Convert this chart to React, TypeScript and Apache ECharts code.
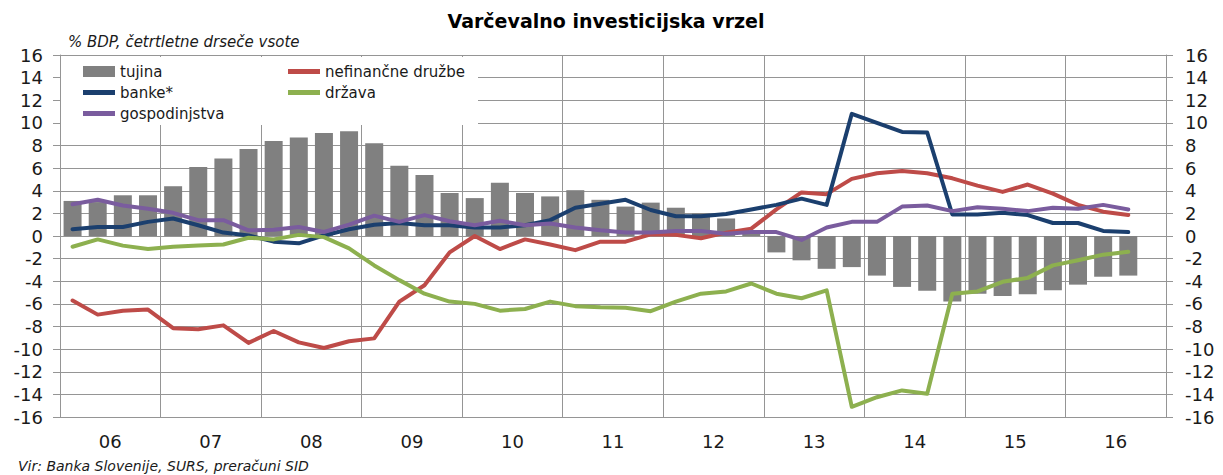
import React, { useEffect, useRef } from "react";
import * as echarts from "echarts";

const years = ["06", "07", "08", "09", "10", "11", "12", "13", "14", "15", "16"];
const quarters = years.flatMap((y) => ["Q1", "Q2", "Q3", "Q4"].map((q) => y + q));

const tujina = [3.1, 3.0, 3.6, 3.6, 4.4, 6.1, 6.85, 7.7, 8.4, 8.7, 9.1, 9.25, 8.2, 6.2, 5.4, 3.8, 3.35, 4.7, 3.8, 3.5, 4.05, 3.2, 2.6, 2.95, 2.5, 2.0, 1.55, 0.3, -1.45, -2.15, -2.9, -2.75, -3.5, -4.5, -4.85, -5.8, -5.1, -5.3, -5.15, -4.8, -4.3, -3.6, -3.5];
const nefinancne = [-5.7, -6.95, -6.6, -6.5, -8.15, -8.25, -7.9, -9.45, -8.4, -9.4, -9.9, -9.3, -9.05, -5.8, -4.35, -1.45, 0.0, -1.15, -0.3, -0.75, -1.25, -0.5, -0.5, 0.15, 0.1, -0.2, 0.3, 0.65, 2.35, 3.85, 3.7, 5.05, 5.55, 5.75, 5.55, 5.1, 4.45, 3.9, 4.55, 3.75, 2.75, 2.15, 1.85];
const banke = [0.6, 0.8, 0.8, 1.25, 1.55, 0.95, 0.3, 0.05, -0.5, -0.65, 0.05, 0.6, 1.0, 1.15, 0.95, 0.95, 0.75, 0.75, 0.95, 1.4, 2.5, 2.85, 3.2, 2.3, 1.75, 1.75, 1.95, 2.35, 2.75, 3.3, 2.75, 10.8, 10.0, 9.2, 9.15, 1.9, 1.9, 2.05, 1.85, 1.15, 1.15, 0.45, 0.35];
const drzava = [-0.95, -0.3, -0.85, -1.15, -0.95, -0.85, -0.75, -0.15, -0.3, 0.1, -0.1, -1.1, -2.6, -3.9, -5.1, -5.8, -6.0, -6.6, -6.45, -5.8, -6.2, -6.3, -6.35, -6.65, -5.8, -5.1, -4.9, -4.2, -5.1, -5.5, -4.8, -15.1, -14.25, -13.65, -13.95, -5.1, -4.9, -4.05, -3.7, -2.6, -2.15, -1.65, -1.4];
const gospodinjstva = [2.8, 3.2, 2.7, 2.4, 2.05, 1.4, 1.4, 0.5, 0.55, 0.8, 0.35, 1.0, 1.8, 1.25, 1.85, 1.3, 0.95, 1.35, 0.95, 1.1, 0.75, 0.5, 0.3, 0.3, 0.45, 0.45, 0.2, 0.35, 0.35, -0.35, 0.75, 1.25, 1.25, 2.6, 2.7, 2.2, 2.55, 2.4, 2.2, 2.5, 2.4, 2.75, 2.35];

const FONT = '"DejaVu Sans", Verdana, sans-serif';
const GRID = "#959595";
const LINE_ICON = "path://M0,0H32V5H0Z";

const lineSeries = (name: string, data: number[], color: string) => ({
  name,
  type: "line",
  data,
  xAxisIndex: 0,
  yAxisIndex: 0,
  showSymbol: false,
  symbol: "none",
  smooth: false,
  itemStyle: { color },
  lineStyle: { color, width: 4, join: "round", cap: "round" },
  z: 3,
});

export default function App() {
  const ref = useRef<HTMLDivElement>(null);
  useEffect(() => {
    document.body.style.margin = "0";
    const chart = echarts.init(ref.current!, undefined, { renderer: "svg" });
    const axisLabel = { fontFamily: FONT, fontSize: 18, color: "#1a1a1a" };
    const legendText = { fontFamily: FONT, fontSize: 15, color: "#1a1a1a", lineHeight: 15 };
    chart.setOption({
      animation: false,
      backgroundColor: "#fff",
      grid: { left: 60, right: 57, top: 55, bottom: 58, containLabel: false },
      xAxis: [
        { type: "category", data: quarters, show: false, position: "bottom", boundaryGap: true },
        {
          type: "category",
          data: years,
          position: "bottom",
          boundaryGap: true,
          axisLine: { show: true, lineStyle: { color: GRID, width: 1 } },
          axisTick: { show: false },
          axisLabel: { ...axisLabel, margin: 15, interval: 0 },
          splitLine: { show: true, interval: 0, lineStyle: { color: GRID, width: 1 } },
        },
      ],
      yAxis: [
        {
          type: "value",
          min: -16,
          max: 16,
          interval: 2,
          position: "left",
          axisLine: { show: true, lineStyle: { color: GRID, width: 1 } },
          axisTick: { show: true, length: 7, lineStyle: { color: GRID } },
          axisLabel: { ...axisLabel, margin: 17 },
          splitLine: { show: true, lineStyle: { color: GRID, width: 1 } },
        },
        {
          type: "value",
          min: -16,
          max: 16,
          interval: 2,
          position: "right",
          axisLine: { show: true, lineStyle: { color: GRID, width: 1 } },
          axisTick: { show: true, length: 7, lineStyle: { color: GRID } },
          axisLabel: { ...axisLabel, margin: 19 },
          splitLine: { show: false },
        },
      ],
      legend: [
        {
          left: 83,
          top: 64,
          orient: "vertical",
          padding: 0,
          itemWidth: 32,
          itemHeight: 11,
          itemGap: 6,
          textStyle: legendText,
          selectedMode: false,
          data: [
            { name: "tujina", icon: "rect" },
            { name: "banke*", icon: LINE_ICON },
            { name: "gospodinjstva", icon: LINE_ICON },
          ],
          z: 5,
        },
        {
          left: 288,
          top: 64,
          orient: "vertical",
          padding: 0,
          itemWidth: 32,
          itemHeight: 11,
          itemGap: 6,
          textStyle: legendText,
          selectedMode: false,
          data: [
            { name: "nefinančne družbe", icon: LINE_ICON },
            { name: "država", icon: LINE_ICON },
          ],
          z: 5,
        },
      ],
      graphic: [
        { type: "rect", z: 1, shape: { x: 61, y: 57, width: 417, height: 68 }, style: { fill: "#fff" } },
        {
          type: "text",
          x: 606,
          y: 21,
          style: { text: "Varčevalno investicijska vrzel", fontFamily: FONT, fontSize: 19, fontWeight: "bold", fill: "#000", align: "center", verticalAlign: "middle" },
        },
        {
          type: "text",
          x: 68,
          y: 42,
          style: { text: "% BDP, četrtletne drseče vsote", fontFamily: FONT, fontSize: 15, fontStyle: "italic", fill: "#1a1a1a", align: "left", verticalAlign: "middle" },
        },
        {
          type: "text",
          x: 18,
          y: 466,
          style: { text: "Vir: Banka Slovenije, SURS, preračuni SID", fontFamily: FONT, fontSize: 14, fontStyle: "italic", fill: "#1a1a1a", align: "left", verticalAlign: "middle" },
        },
      ],
      series: [
        { name: "tujina", type: "bar", data: tujina, xAxisIndex: 0, yAxisIndex: 0, barWidth: 18, itemStyle: { color: "#808080" }, z: 2 },
        lineSeries("nefinančne družbe", nefinancne, "#BE4B48"),
        lineSeries("banke*", banke, "#1B3F6E"),
        lineSeries("država", drzava, "#8DB04F"),
        lineSeries("gospodinjstva", gospodinjstva, "#7A5C9E"),
      ],
    });
    return () => chart.dispose();
  }, []);
  return <div ref={ref} style={{ width: 1223, height: 475, background: "#fff" }} />;
}
